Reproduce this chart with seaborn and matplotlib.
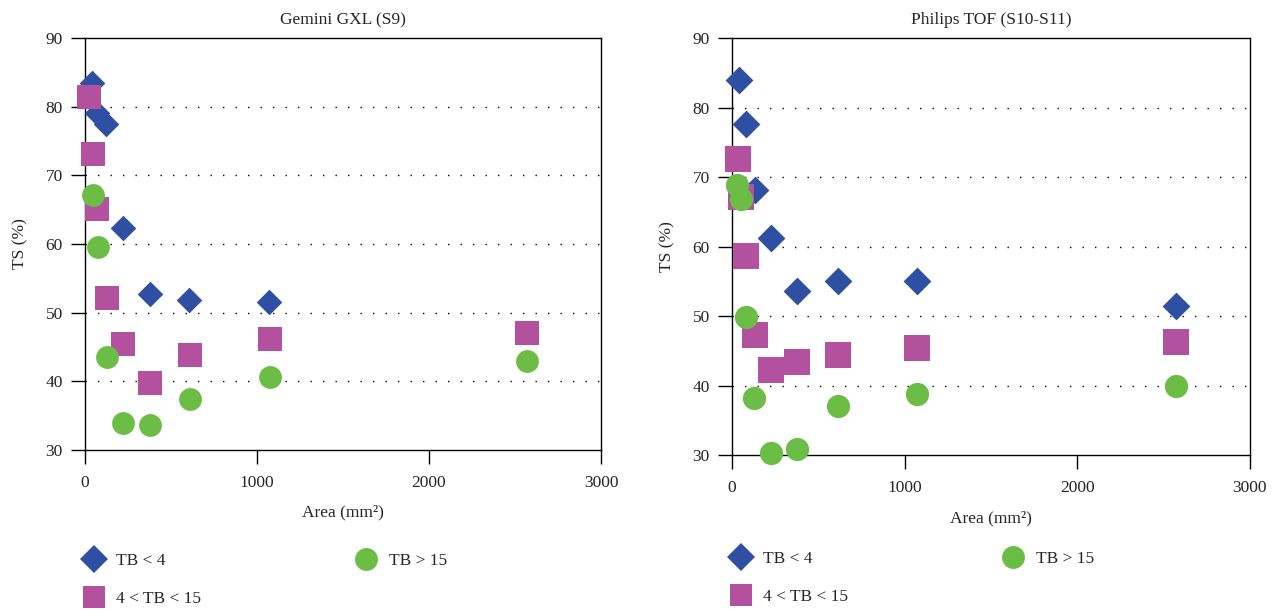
import seaborn as sns
import numpy as np
import pandas as pd
import matplotlib
matplotlib.use("Agg")
import matplotlib.pyplot as plt
from matplotlib.lines import Line2D

# Gemini GXL (S9)
gem_tb4_area = [41, 72, 125, 221, 378, 605, 1070]
gem_tb4_ts = [83.4, 79.1, 77.5, 62.3, 52.7, 51.9, 51.6]
gem_mid_area = [23, 45, 73, 128, 223, 380, 613, 1074, 2570]
gem_mid_ts = [81.4, 73.1, 65.1, 52.2, 45.4, 39.7, 43.9, 46.1, 47.0]
gem_tb15_area = [47, 75, 128, 223, 380, 613, 1074, 2570]
gem_tb15_ts = [67.1, 59.6, 43.6, 34.0, 33.7, 37.4, 40.7, 43.0]

# Philips TOF (S10-S11)
phi_tb4_area = [39, 79, 131, 228, 376, 612, 1072, 2571]
phi_tb4_ts = [83.9, 77.6, 68.2, 61.2, 53.6, 55.1, 55.1, 51.4]
phi_mid_area = [35, 54, 79, 131, 224, 379, 612, 1074, 2571]
phi_mid_ts = [72.6, 67.1, 58.6, 47.3, 42.3, 43.4, 44.4, 45.4, 46.3]
phi_tb15_area = [31, 54, 81, 129, 224, 379, 612, 1074, 2571]
phi_tb15_ts = [68.9, 66.8, 49.9, 38.2, 30.3, 30.9, 37.0, 38.8, 40.0]

titles = ["Gemini GXL (S9)", "Philips TOF (S10-S11)"]
labels = ["TB < 4", "4 < TB < 15", "TB > 15"]
colors = ["#2f4fa2", "#b4519e", "#6cbd45"]
markers = ["D", "s", "o"]

sns.set_style("white")
plt.rcParams["font.family"] = ["Liberation Serif", "DejaVu Serif"]
plt.rcParams["font.size"] = 12.5

fig = plt.figure(figsize=(12.85, 6.11), dpi=100)
ax1 = fig.add_axes([0.0661, 0.2635, 0.4016, 0.6743])
ax2 = fig.add_axes([0.5696, 0.2553, 0.4031, 0.6825])

panels = [
    (ax1, [(gem_tb4_area, gem_tb4_ts), (gem_mid_area, gem_mid_ts), (gem_tb15_area, gem_tb15_ts)], [170, 280, 270], -0.250),
    (ax2, [(phi_tb4_area, phi_tb4_ts), (phi_mid_area, phi_mid_ts), (phi_tb15_area, phi_tb15_ts)], [200, 340, 280], -0.230),
]

for (ax, series, sizes, leg_y), title in zip(panels, titles):
    # diamonds first, then squares, circles on top
    for (xs, ys), lab, c, m, s in zip(series, labels, colors, markers, sizes):
        df = pd.DataFrame({"area": xs, "ts": ys})
        sns.scatterplot(data=df, x="area", y="ts", ax=ax, marker=m, color=c,
                        s=s, linewidth=0, zorder=3, clip_on=False, legend=False)
    ax.set_xlim(0, 3000)
    ax.set_ylim(30, 90)
    ax.set_xticks([0, 1000, 2000, 3000])
    ax.set_yticks([30, 40, 50, 60, 70, 80, 90])
    ax.set_title(title, fontsize=12.5, pad=10)
    ax.set_xlabel("Area (mm²)", fontsize=12.5, labelpad=10)
    ax.set_ylabel("TS (%)", fontsize=12.5, labelpad=12)
    for sp in ax.spines.values():
        sp.set_visible(True)
        sp.set_color("black")
        sp.set_linewidth(1.0)
    ax.tick_params(axis="both", direction="out", length=10, width=1.0,
                   color="black", labelsize=12.5, bottom=True, left=True)
    ax.tick_params(axis="x", pad=8)
    ax.tick_params(axis="y", pad=6)
    for yv in [40, 50, 60, 70, 80]:
        ax.axhline(yv, color="black", linewidth=1.0, linestyle=(0, (1, 8)), zorder=1)

    handles = [Line2D([], [], linestyle="none", marker=m, color=c, markersize=ms, markeredgewidth=0)
               for m, c, ms in zip(markers, colors, [14, 16.5, 16.5])]
    ax.legend(handles, labels, loc="upper left", bbox_to_anchor=(0.0, leg_y),
              ncol=2, frameon=False, handlelength=1.0, handletextpad=0.8,
              columnspacing=9.0, labelspacing=1.25, borderpad=0, borderaxespad=0,
              fontsize=12.5)

fig.savefig("out.png", dpi=100)
